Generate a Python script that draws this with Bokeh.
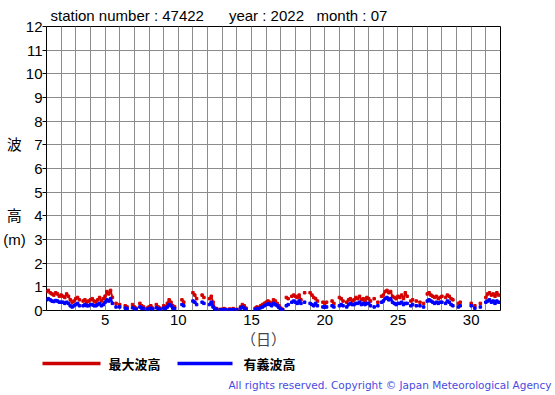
import numpy as np
from bokeh.plotting import figure
from bokeh.layouts import column
from bokeh.models import Range1d, FixedTicker
from bokeh.core.properties import value
from bokeh.embed import file_html
from bokeh.resources import INLINE

# ---------------- data (3-hourly, 8 values per day, July 2022) ----------------
N = None
max_wave = [
    0.80, 0.85, 0.75, 0.70, 0.65, 0.75, 0.70, 0.60,   # 1
    0.65, 0.60, 0.55, 0.70, 0.60, 0.45, 0.35, 0.40,   # 2
    0.50, 0.55, 0.45, N,    0.40, 0.45, 0.35, 0.40,   # 3
    0.45, 0.50, 0.40, 0.35, 0.45, 0.55, 0.40, 0.50,   # 4
    0.60, 0.80, 0.70, 0.85, 0.55, N,    0.30, N,      # 5
    0.25, N,    N,    0.20, 0.15, N,    N,    0.25,   # 6
    0.15, 0.10, N,    0.30, 0.20, 0.15, N,    0.10,   # 7
    0.15, 0.20, 0.10, N,    0.25, 0.15, 0.10, N,      # 8
    0.20, 0.15, 0.30, 0.45, 0.35, 0.20, 0.15, N,      # 9
    N,    N,    0.45, 0.35, N,    N,    N,    N,      # 10
    0.75, 0.65, 0.50, N,    N,    0.65, 0.55, N,      # 11
    N,    0.50, 0.60, 0.35, 0.10, 0.08, N,    0.05,   # 12
    0.05, 0.08, 0.05, N,    0.06, 0.05, 0.08, N,      # 13
    0.05, N,    0.15, 0.25, 0.20, 0.10, N,    N,      # 14
    N,    N,    0.10, 0.15, 0.12, 0.20, 0.25, 0.30,   # 15
    0.35, 0.40, 0.35, 0.30, 0.45, 0.40, 0.30, 0.20,   # 16
    0.10, 0.05, N,    0.55, 0.50, N,    0.60, 0.65,   # 17
    0.60, 0.55, 0.65, 0.45, N,    0.75, N,    N,      # 18
    0.75, 0.65, 0.55, 0.50, 0.40, N,    N,    0.35,   # 19
    0.30, 0.35, N,    N,    0.40, 0.30, N,    N,      # 20
    0.55, 0.50, 0.40, N,    0.35, 0.45, 0.50, 0.40,   # 21
    0.45, 0.55, 0.50, 0.60, 0.45, 0.50, 0.40, 0.55,   # 22
    0.50, 0.40, N,    0.50, N,    0.35, N,    0.60,   # 23
    0.65, 0.80, 0.85, 0.75, 0.80, 0.60, 0.55, 0.50,   # 24
    0.60, 0.55, 0.65, 0.50, 0.75, 0.60, N,    0.40,   # 25
    0.45, N,    0.40, N,    0.35, N,    0.30, N,      # 26
    0.70, 0.75, 0.65, 0.60, 0.55, 0.60, 0.50, 0.55,   # 27
    0.60, N,    0.55, 0.65, 0.60, 0.50, 0.45, N,      # 28
    N,    0.30, 0.35, N,    N,    N,    N,    N,      # 29
    0.30, N,    0.20, N,    N,    0.30, N,    N,      # 30
    0.55, 0.70, 0.75, 0.65, 0.70, 0.60, 0.75, 0.65,   # 31
]
sig_wave = [
    0.45, 0.50, 0.45, 0.40, 0.38, 0.42, 0.40, 0.35,   # 1
    0.35, 0.35, 0.30, 0.35, 0.30, 0.20, 0.15, 0.20,   # 2
    0.25, 0.30, 0.20, N,    0.20, 0.25, 0.20, 0.20,   # 3
    0.25, 0.25, 0.20, 0.20, 0.25, 0.30, 0.20, 0.25,   # 4
    0.35, 0.45, 0.40, 0.50, 0.30, N,    0.15, N,      # 5
    0.15, N,    N,    0.10, 0.08, N,    N,    0.12,   # 6
    0.08, 0.05, N,    0.15, 0.10, 0.08, N,    0.05,   # 7
    0.08, 0.10, 0.05, N,    0.12, 0.08, 0.05, N,      # 8
    0.10, 0.08, 0.15, 0.25, 0.20, 0.10, 0.08, N,      # 9
    N,    N,    0.25, 0.20, N,    N,    N,    N,      # 10
    0.40, 0.35, 0.25, N,    N,    0.35, 0.30, N,      # 11
    N,    0.25, 0.35, 0.15, 0.05, 0.05, N,    0.03,   # 12
    0.03, 0.04, 0.03, N,    0.03, 0.03, 0.04, N,      # 13
    0.03, N,    0.10, 0.15, 0.10, 0.05, N,    N,      # 14
    N,    N,    0.05, 0.08, 0.08, 0.12, 0.15, 0.20,   # 15
    0.25, 0.28, 0.25, 0.20, 0.30, 0.25, 0.20, 0.12,   # 16
    0.05, 0.03, N,    0.20, 0.25, N,    0.35, 0.40,   # 17
    0.35, 0.30, 0.40, 0.30, N,    0.35, N,    N,      # 18
    0.30, 0.25, 0.20, 0.30, 0.20, N,    N,    0.15,   # 19
    0.15, 0.15, N,    N,    0.20, 0.15, N,    N,      # 20
    0.20, 0.25, 0.20, N,    0.15, 0.25, 0.30, 0.25,   # 21
    0.25, 0.30, 0.30, 0.35, 0.25, 0.30, 0.25, 0.30,   # 22
    0.30, 0.20, N,    0.15, N,    0.20, N,    0.35,   # 23
    0.40, 0.50, 0.55, 0.45, 0.50, 0.35, 0.30, 0.25,   # 24
    0.30, 0.30, 0.35, 0.25, 0.30, 0.30, N,    0.20,   # 25
    0.25, N,    0.20, N,    0.20, N,    0.15, N,      # 26
    0.40, 0.45, 0.40, 0.35, 0.30, 0.35, 0.30, 0.35,   # 27
    0.35, N,    0.30, 0.40, 0.35, 0.25, 0.20, N,      # 28
    N,    0.15, 0.20, N,    N,    N,    N,    N,      # 29
    0.20, N,    0.10, N,    N,    0.15, N,    N,      # 30
    0.35, 0.40, 0.45, 0.35, 0.40, 0.30, 0.40, 0.35,   # 31
]
x_tick_labels = [5, 10, 15, 20, 25, 30]
y_ticks = list(range(0, 13))
NB = "\u00a0"
y_label_parts = {7: "波" + NB * 3, 4: "高" + NB * 3, 3: "(m)" + NB * 2}
title_text = ("station number : 47422" + NB * 6 + "year : 2022" + NB * 3 + "month : 07")
x_label = "（日）"
legend_names = ["最大波高", "有義波高"]
legend_colors = ["#cc0000", "#0000ff"]
copyright_text = "All rights reserved. Copyright © Japan Meteorological Agency"

t = 1 + np.arange(len(max_wave)) / 8.0
hmax = np.array(max_wave, dtype=float)
hsig = np.array(sig_wave, dtype=float)

RED = "#d40000"
BLUE = "#0000ff"
FONT = "Liberation Sans"
JP = "Noto Sans CJK JP"

# ---------------- main chart ----------------
p = figure(width=555, height=351, output_backend="svg", toolbar_location=None,
           x_range=Range1d(1, 32), y_range=Range1d(0, 12),
           min_border_left=45, min_border_right=55, min_border_top=26,
           min_border_bottom=41)
p.outline_line_color = "black"
p.outline_line_width = 1
p.background_fill_color = "white"
p.border_fill_color = "white"

p.title.text = title_text
p.title.align = "left"
p.title.offset = 4
p.title.standoff = 5
p.title.text_font = FONT
p.title.text_font_size = "15px"
p.title.text_font_style = "normal"
p.title.text_color = "black"

p.xaxis.ticker = FixedTicker(ticks=x_tick_labels)
p.yaxis.ticker = FixedTicker(ticks=y_ticks)
p.xgrid.ticker = FixedTicker(ticks=list(range(1, 33)))
p.ygrid.ticker = FixedTicker(ticks=y_ticks)
for g in (p.xgrid, p.ygrid):
    g.grid_line_color = "#8c8c8c"
    g.grid_line_width = 1
for ax in (p.xaxis, p.yaxis):
    ax.axis_line_color = None
    ax.minor_tick_line_color = None
    ax.major_label_text_font = FONT + ", " + JP
    ax.major_label_text_font_size = "15px"
    ax.major_label_text_color = "black"
p.xaxis.major_tick_line_color = None
p.xaxis.major_tick_out = 0
p.xaxis.major_tick_in = 0
p.xaxis.major_label_standoff = 4
p.yaxis.major_tick_out = 4
p.yaxis.major_tick_in = 0
p.yaxis.major_label_standoff = 0
p.yaxis.major_label_overrides = {k: v + str(k) for k, v in y_label_parts.items()}
p.xaxis.axis_label = x_label + NB * 6
p.xaxis.axis_label_text_font = JP
p.xaxis.axis_label_text_font_style = "normal"
p.xaxis.axis_label_text_font_size = "15px"
p.xaxis.axis_label_standoff = 0

p.line(t, hmax, line_color=RED, line_width=2)
p.scatter(t, hmax, marker="square", size=2.5, color=RED)
p.line(t, hsig, line_color=BLUE, line_width=2.5)
p.scatter(t, hsig, marker="square", size=2.5, color=BLUE)

# ---------------- legend / footer strip (pixel coordinates) ----------------
q = figure(width=555, height=44, output_backend="svg", toolbar_location=None,
           x_range=Range1d(0, 555), y_range=Range1d(44, 0),
           x_axis_type=None, y_axis_type=None, min_border=0)
try:
    q.frame_align = False
except Exception:
    pass
q.outline_line_color = None
q.xgrid.visible = False
q.ygrid.visible = False
q.border_fill_color = "white"
q.segment(x0=[42, 177], y0=[12, 12], x1=[100, 232], y1=[12, 12],
          line_color=legend_colors, line_width=3.5)
q.text(x=[108, 243], y=[12, 12], text=legend_names, text_font=value(JP),
       text_font_size="13px", text_font_style="bold", text_baseline="middle",
       text_align="left", text_color="black")
q.text(x=[551], y=[33], text=[copyright_text], text_font=value("DejaVu Sans"),
       text_font_size="10.5px", text_baseline="middle", text_align="right",
       text_color="#4a4ae0")

layout = column(p, q, spacing=0)
open("out.html", "w").write(file_html(layout, INLINE))
